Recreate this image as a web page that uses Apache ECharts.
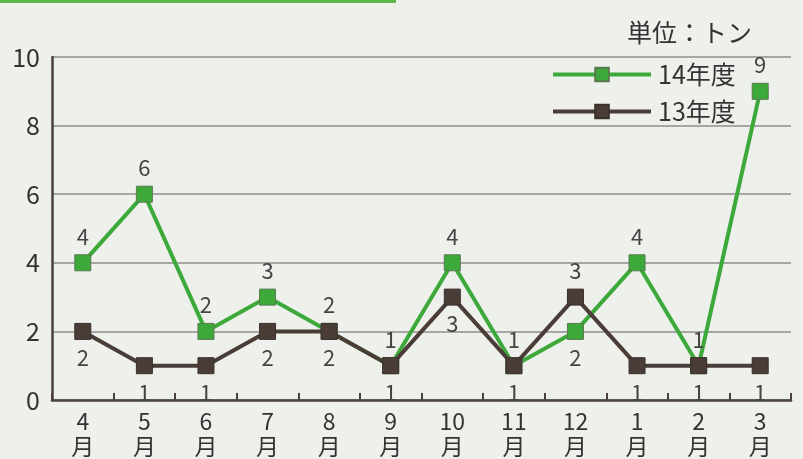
<!DOCTYPE html>
<html><head><meta charset="utf-8">
<script src="https://cdn.jsdelivr.net/npm/echarts@6/dist/echarts.min.js"></script>
<style>html,body{margin:0;padding:0;background:#eef0ec;}#c{width:803px;height:459px;}</style>
</head><body><div id="c"></div>
<script>
var categories = ['4\n月','5\n月','6\n月','7\n月','8\n月','9\n月','10\n月','11\n月','12\n月','1\n月','2\n月','3\n月'];
var fy14 = [4,6,2,3,2,1,4,1,2,4,1,9];
var fy13 = [2,1,1,2,2,1,3,1,3,1,1,1];
var fy14LabelPos = ['top','top','top','top','top','top','top','top','bottom','top','top','top'];
var fy13LabelPos = ['bottom','bottom','bottom','bottom','bottom','bottom','bottom','bottom','top','bottom','bottom','bottom'];

var font = '"Noto Sans CJK JP", "Noto Sans", sans-serif';
function mk(vals, pos) {
  return vals.map(function (v, i) { return { value: v, label: { position: pos[i] } }; });
}
var chart = echarts.init(document.getElementById('c'));
chart.setOption({
  backgroundColor: '#eef0ec',
  animation: false,
  title: { text: '単位：トン', right: 46, top: 15, textStyle: { fontFamily: font, fontSize: 25, fontWeight: 'normal', color: '#333' } },
  graphic: [{ type: 'rect', shape: { x: 0, y: 0, width: 396, height: 3 }, style: { fill: '#5cb84a' } }],
  legend: {
    orient: 'vertical', left: 546, top: 57, itemGap: 12,
    itemWidth: 98, itemHeight: 17,
    lineStyle: { width: 4 },
    textStyle: { fontFamily: font, fontSize: 25, color: '#333', padding: [0, 0, 0, 2] },
    data: ['14年度', '13年度']
  },
  grid: { left: 52, right: 12, top: 57, bottom: 57 },
  xAxis: {
    type: 'category', data: categories, boundaryGap: true,
    axisLine: { lineStyle: { color: '#4a403c', width: 2.5 } },
    axisTick: { show: true, inside: true, length: 7, lineStyle: { color: '#4a403c', width: 2 } },
    axisLabel: { fontFamily: font, fontSize: 23, color: '#333', lineHeight: 25, margin: 9 }
  },
  yAxis: {
    type: 'value', min: 0, max: 10, interval: 2,
    axisLine: { show: true, lineStyle: { color: '#4a403c', width: 2.5 } },
    axisTick: { show: false },
    splitLine: { lineStyle: { color: '#a8a6a4', width: 2 } },
    axisLabel: { fontFamily: font, fontSize: 25, color: '#333', margin: 12 }
  },
  series: [
    {
      name: '14年度', type: 'line', data: mk(fy14, fy14LabelPos),
      symbol: 'rect', symbolSize: 16,
      lineStyle: { color: '#3ca93a', width: 4 },
      itemStyle: { color: '#3ca93a', borderColor: '#5a7a50', borderWidth: 1 },
      label: { show: true, fontFamily: font, fontSize: 22, color: '#444', distance: 7 },
      z: 2
    },
    {
      name: '13年度', type: 'line', data: mk(fy13, fy13LabelPos),
      symbol: 'rect', symbolSize: 16,
      lineStyle: { color: '#4a3c37', width: 4 },
      itemStyle: { color: '#4a3c37', borderColor: '#3a302c', borderWidth: 1 },
      label: { show: true, fontFamily: font, fontSize: 22, color: '#444', distance: 7 },
      z: 3
    }
  ]
});
</script></body></html>
